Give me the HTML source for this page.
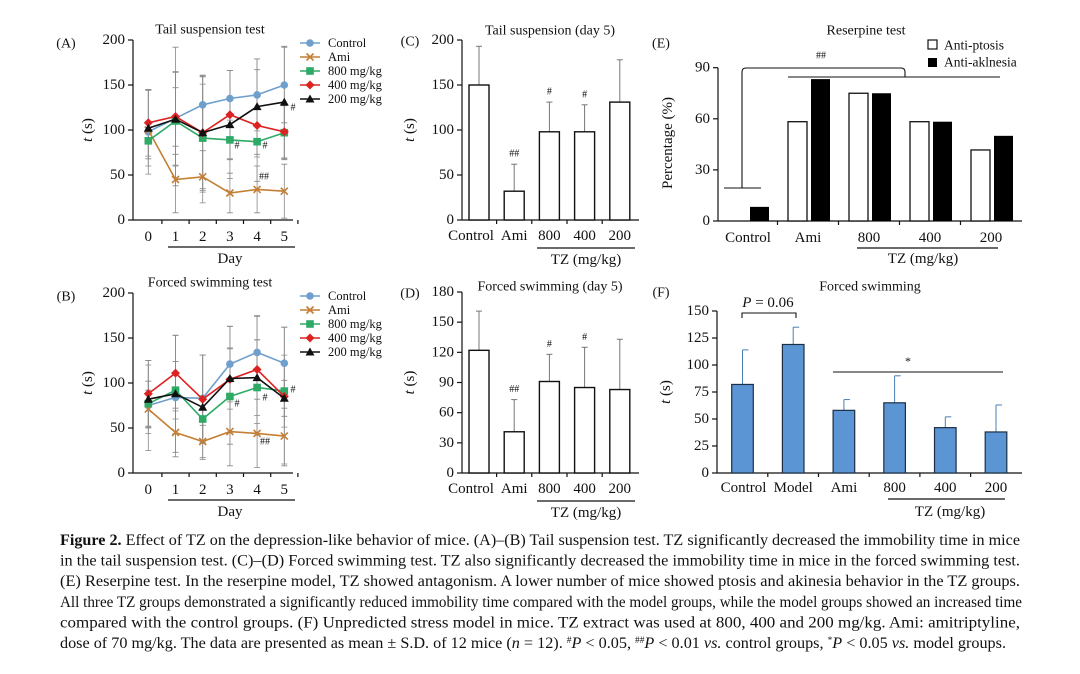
<!DOCTYPE html>
<html><head><meta charset="utf-8"><style>
html,body{margin:0;padding:0;background:#fff;}
svg{display:block;font-family:"Liberation Serif",serif;}
</style></head><body>
<svg id="fig" width="1080" height="674" viewBox="0 0 1080 674" xmlns="http://www.w3.org/2000/svg"></svg>
<script>
// ---------- DATA ----------
const days=[0,1,2,3,4,5];
const seriesNames=['Control','Ami','800 mg/kg','400 mg/kg','200 mg/kg'];
const tailControl=[98,113,128,135,139,150];
const tailAmi=[100,45,48,30,34,32];
const tail800=[88,110,91,89,87,97];
const tail400=[108,115,97,117,105,98];
const tail200=[102,112,97,106,126,131];
const tailSD=[[47,52,32,31,40,42],[0,37,29,22,26,30],[20,37,60,22,17,30],[37,77,64,49,62,30],[42,52,62,60,53,62]];
const swimControl=[75,84,83,121,134,122];
const swimAmi=[71,45,35,46,44,41];
const swim800=[77,92,60,85,95,91];
const swim400=[88,111,82,104,115,85];
const swim200=[82,88,73,105,106,83];
const swimSD=[[50,40,48,42,40,40],[21,27,18,38,38,31],[25,32,26,53,53,40],[37,42,49,59,60,77],[38,65,58,34,42,20]];
const day5Groups=['Control','Ami','800','400','200'];
const tsDay5Mean=[150,32,98,98,131];
const tsDay5Upper=[193,62,131,128,178];
const fsDay5Mean=[122,41,91,85,83];
const fsDay5Upper=[161,73,118,125,133];
const resGroups=['Control','Ami','800','400','200'];
const ptosis=[0,58.3,75,58.3,41.7];
const akinesia=[8.3,83.3,75,58.3,50];
const fsGroups=['Control','Model','Ami','800','400','200'];
const fsMean=[82,119,58,65,42,38];
const fsUpper=[114,135,68,90,52,63];
const tailTicks=[0,50,100,150,200];
const d5Ticks=[0,30,60,90,120,150,180];
const resTicks=[0,30,60,90];
const fsTicks=[0,25,50,75,100,125,150];

// ---------- HELPERS ----------
const NS='http://www.w3.org/2000/svg';
const svg=document.getElementById('fig');
const FS=15, TS=14;
function mk(tag,parent,attrs){const e=document.createElementNS(NS,tag);for(const k in attrs)e.setAttribute(k,attrs[k]);(parent||svg).appendChild(e);return e;}
function txt(parent,x,y,s,size,anchor,extra){const t=mk('text',parent,Object.assign({x:x,y:y,'font-size':size,'text-anchor':anchor||'middle','dominant-baseline':'central',fill:'#111'},extra||{}));t.textContent=s;return t;}
function line(parent,x1,y1,x2,y2,col,w){return mk('line',parent,{x1:x1,y1:y1,x2:x2,y2:y2,stroke:col||'#111','stroke-width':w||1.2});}
function group(name){const g=mk('g',svg,{});return g;}
function yAxis(g,ax,y0,ppu,ticks,x1,size){
  const a=line(g,ax,y0,ax,y0-ppu*ticks[ticks.length-1]);
  const b=line(g,ax,y0,x1,y0);
  ticks.forEach(v=>{const y=y0-v*ppu;line(g,ax-5,y,ax,y);const t=txt(g,ax-8,y,String(v),size||FS,'end');});
}
function ylabelT(g,x,y){const t=mk('text',g,{x:0,y:0,'font-size':FS,'text-anchor':'middle','dominant-baseline':'central',fill:'#111',transform:`translate(${x},${y}) rotate(-90)`});t.innerHTML='<tspan font-style="italic">t</tspan> (s)';}

// ---------- LINE CHARTS ----------
const colors=['#6f9fcc','#c47f35','#2eaa66','#dd2222','#111'];
function marker(g,k,x,y){
  const c=colors[k];let m;
  if(k===0)m=mk('circle',g,{cx:x,cy:y,r:3.8,fill:c});
  else if(k===1){m=mk('path',g,{d:`M${x-3.5},${y-3.5}L${x+3.5},${y+3.5}M${x-3.5},${y+3.5}L${x+3.5},${y-3.5}`,stroke:c,'stroke-width':1.6});}
  else if(k===2)m=mk('rect',g,{x:x-3.8,y:y-3.8,width:7.6,height:7.6,fill:c});
  else if(k===3)m=mk('path',g,{d:`M${x},${y-4.5}L${x+4.5},${y}L${x},${y+4.5}L${x-4.5},${y}Z`,fill:c});
  else m=mk('path',g,{d:`M${x},${y-4.5}L${x+4.5},${y+3.5}L${x-4.5},${y+3.5}Z`,fill:c});
  
}
function lineChart(name,title,letter,series,sd,y0,top,legTop){
  const g=group(name);
  const ax=133, ppu=(y0-top)/200, xs=d=>148.3+d*27.2, ys=v=>y0-v*ppu;
  yAxis(g,ax,y0,ppu,tailTicks,293);
  days.forEach(d=>{line(g,xs(d)+13.6,y0,xs(d)+13.6,y0+4);const t=txt(g,xs(d),y0+17,String(d),FS);});
  line(g,168,y0+27,295,y0+27,'#111',1.2);
  const dl=txt(g,230,y0+39,'Day',FS);
  ylabelT(g,88,(y0+top)/2);
  const tt=txt(g,210,top-10,title,TS);
  const lt=txt(g,66,top+4,letter,TS);
  series.forEach((s,k)=>s.forEach((v,i)=>{if(!sd[k][i])return;const x=xs(days[i]);
    const e=mk('path',g,{d:`M${x},${ys(v-sd[k][i])}L${x},${ys(Math.min(200,v+sd[k][i]))}M${x-3},${ys(v+sd[k][i])}L${x+3},${ys(v+sd[k][i])}M${x-3},${ys(v-sd[k][i])}L${x+3},${ys(v-sd[k][i])}`,stroke:'#888','stroke-width':0.8,fill:'none'});
    }));
  series.forEach((s,k)=>{
    const p=mk('polyline',g,{points:s.map((v,i)=>xs(days[i])+','+ys(v)).join(' '),fill:'none',stroke:colors[k],'stroke-width':1.6});
    
    s.forEach((v,i)=>marker(g,k,xs(days[i]),ys(v)));
  });
  seriesNames.forEach((n,k)=>{const y=legTop+k*14;const lg=mk('g',g,{});
    line(lg,300,y,320,y,colors[k],1.6);marker(lg,k,310,y);txt(lg,328,y,n,12.5,'start');});
  return {g,xs,ys};
}
const A=lineChart('panel-a-tail-suspension','Tail suspension test','(A)',[tailControl,tailAmi,tail800,tail400,tail200],tailSD,220,40,43);
txt(A.g,293,108,'#',10);txt(A.g,237,146,'#',10);txt(A.g,265,146,'#',10);txt(A.g,264,177,'##',10);
const B=lineChart('panel-b-forced-swimming','Forced swimming test','(B)',[swimControl,swimAmi,swim800,swim400,swim200],swimSD,473,293,296);
txt(B.g,293,390,'#',10);txt(B.g,237,404,'#',10);txt(B.g,265,398,'#',10);txt(B.g,265,442,'##',10);

// ---------- DAY-5 BAR CHARTS ----------
function day5(name,title,letter,mean,upper,ticks,y0,top,titleY,marks){
  const g=group(name);const ax=462,max=ticks[ticks.length-1],ppu=(y0-top)/max;
  const cx=i=>479+i*35.2, ys=v=>y0-v*ppu;
  yAxis(g,ax,y0,ppu,ticks,639);
  ylabelT(g,410,(y0+top)/2);
  const lt=txt(g,410,top+2,letter,TS);
  const tt=txt(g,550,titleY,title,TS);
  day5Groups.forEach((n,i)=>{
    const x=cx(i);
    const e=line(g,x,ys(mean[i]),x,ys(upper[i]),'#777',1);
    line(g,x-3,ys(upper[i]),x+3,ys(upper[i]),'#777',1);
    const r=mk('rect',g,{x:x-10,y:ys(mean[i]),width:20,height:mean[i]*ppu,fill:'#fff',stroke:'#111','stroke-width':1.4});
    
    const t=txt(g,x+(i===0?-8:0),y0+16,n,FS);
    if(i<4)line(g,x+17.6,y0,x+17.6,y0+4);
    if(marks[i]){txt(g,x,ys(upper[i])-10,marks[i],10);}
  });
  line(g,537,y0+28,635,y0+28);
  const tz=txt(g,586,y0+40,'TZ (mg/kg)',FS);
}
day5('panel-c-tail-day5','Tail suspension (day 5)','(C)',tsDay5Mean,tsDay5Upper,tailTicks,220,40,31,['','##','#','#','']);
day5('panel-d-swim-day5','Forced swimming (day 5)','(D)',fsDay5Mean,fsDay5Upper,d5Ticks,473,292,287,['','##','#','#','']);

// ---------- PANEL E ----------
(function(){
  const g=group('panel-e-reserpine');const ax=718,y0=221,ppu=(221-67.7)/90,ys=v=>y0-v*ppu;
  const gx=i=>747+i*61;
  yAxis(g,ax,y0,ppu,resTicks,1022);
  const yl=mk('text',g,{x:0,y:0,'font-size':FS,'text-anchor':'middle','dominant-baseline':'central',fill:'#111',transform:'translate(668,143) rotate(-90)'});yl.textContent='Percentage (%)';
  
  const lt=txt(g,661,44,'(E)',TS);
  const tt=txt(g,866,31,'Reserpine test',TS);
  resGroups.forEach((n,i)=>{
    const x=gx(i);
    if(ptosis[i]>0){const r=mk('rect',g,{x:x-20,y:ys(ptosis[i]),width:19,height:ptosis[i]*ppu,fill:'#fff',stroke:'#111','stroke-width':1.3});}
    const b=mk('rect',g,{x:x+3,y:ys(akinesia[i]),width:19,height:akinesia[i]*ppu,fill:'#000'});
    const t=txt(g,x+(i===0?1:0),238,n,FS);
    if(i<4)line(g,x+30.5,y0,x+30.5,y0+4);
  });
  line(g,857,248,998,248);
  const tz=txt(g,923,259,'TZ (mg/kg)',FS);
  const br=mk('path',g,{d:'M724,188L761,188M742,188L742,72Q742,68 746,68L901,68Q905,68 905,72L905,77M788,77L1000,77',stroke:'#111','stroke-width':1.1,fill:'none'});
  
  txt(g,821,56,'##',10);
  const l1=mk('g',g,{});
  mk('rect',l1,{x:928,y:40,width:9,height:9,fill:'#fff',stroke:'#111','stroke-width':1.2});txt(l1,944,45,'Anti-ptosis',13.5,'start');
  const l2=mk('g',g,{});
  mk('rect',l2,{x:928,y:58,width:9,height:9,fill:'#000'});txt(l2,944,62,'Anti-aklnesia',13.5,'start');
})();

// ---------- PANEL F ----------
(function(){
  const g=group('panel-f-forced-swimming');const ax=717,y0=473,ppu=(473-311)/150,ys=v=>y0-v*ppu;
  const cx=i=>742.5+i*50.7;
  yAxis(g,ax,y0,ppu,fsTicks,1022);
  ylabelT(g,666,392);
  const lt=txt(g,661,293,'(F)',TS);
  const tt=txt(g,870,287,'Forced swimming',TS);
  fsGroups.forEach((n,i)=>{
    const x=cx(i);
    const e=line(g,x,ys(fsMean[i]),x,ys(fsUpper[i]),'#4a7fb5',1);
    line(g,x,ys(fsUpper[i]),x+6,ys(fsUpper[i]),'#4a7fb5',1);
    const r=mk('rect',g,{x:x-10.8,y:ys(fsMean[i]),width:21.6,height:fsMean[i]*ppu,fill:'#5b95d3',stroke:'#1d2f45','stroke-width':1.2});
    
    const t=txt(g,x+(i===0?1:0),488,n,FS);
    if(i<5)line(g,x+25.3,y0,x+25.3,y0+4);
  });
  line(g,888,499,1005,499);
  const tz=txt(g,950,512,'TZ (mg/kg)',FS);
  mk('path',g,{d:'M742,318L742,313L796,313L796,318',stroke:'#111','stroke-width':1.1,fill:'none'});
  const p=mk('text',g,{x:768,y:303,'font-size':FS,'text-anchor':'middle','dominant-baseline':'central',fill:'#111'});p.innerHTML='<tspan font-style="italic">P</tspan> = 0.06';
  
  line(g,833,372,1003,372,'#111',1.1);txt(g,908,361,'*',12);
})();

// ---------- CAPTION ----------
const capLines=[
 ['<tspan font-weight="bold">Figure 2.</tspan> Effect of TZ on the depression-like behavior of mice. (A)–(B) Tail suspension test. TZ significantly decreased the immobility time in mice',1020],
 ['in the tail suspension test. (C)–(D) Forced swimming test. TZ also significantly decreased the immobility time in mice in the forced swimming test.',1020],
 ['(E) Reserpine test. In the reserpine model, TZ showed antagonism. A lower number of mice showed ptosis and akinesia behavior in the TZ groups.',1020],
 ['All three TZ groups demonstrated a significantly reduced immobility time compared with the model groups, while the model groups showed an increased time',1022],
 ['compared with the control groups. (F) Unpredicted stress model in mice. TZ extract was used at 800, 400 and 200 mg/kg. Ami: amitriptyline,',1020],
 ['dose of 70 mg/kg. The data are presented as mean ± S.D. of 12 mice (<tspan font-style="italic">n</tspan> = 12). <tspan baseline-shift="super" font-size="9">#</tspan><tspan font-style="italic">P</tspan> &lt; 0.05, <tspan baseline-shift="super" font-size="9">##</tspan><tspan font-style="italic">P</tspan> &lt; 0.01 <tspan font-style="italic">vs.</tspan> control groups, <tspan baseline-shift="super" font-size="9">*</tspan><tspan font-style="italic">P</tspan> &lt; 0.05 <tspan font-style="italic">vs.</tspan> model groups.',1006]
];
const cap=group('figure-caption');
capLines.forEach((l,i)=>{const t=mk('text',cap,{x:60,y:545+i*20.6,'font-size':15.5,fill:'#111',textLength:l[1]-60,lengthAdjust:'spacingAndGlyphs'});t.innerHTML=l[0];
  });
</script>
</body></html>
